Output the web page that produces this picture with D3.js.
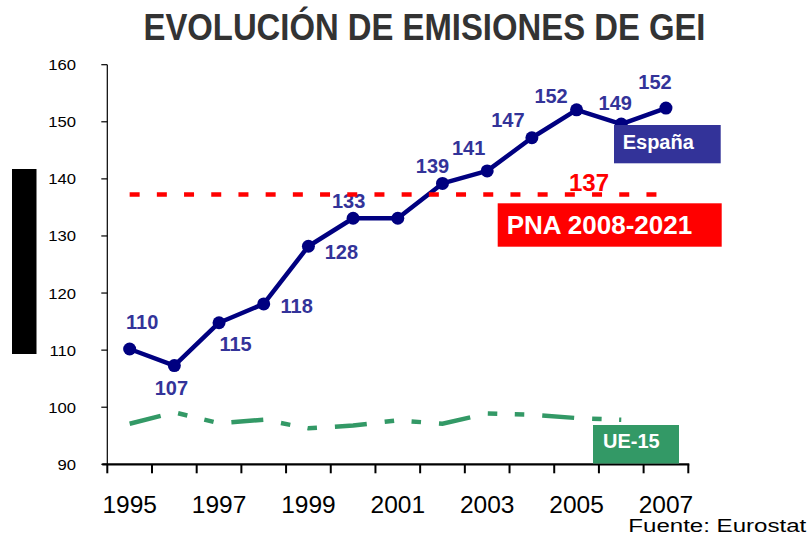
<!DOCTYPE html>
<html lang="es">
<head>
  <meta charset="UTF-8">
  <title>Evolución de emisiones de GEI</title>
  <script src="https://d3js.org/d3.v7.min.js"></script>
  <style>
    body {
      margin: 0;
      background: #fff;
    }
    svg {
      font-family: "Liberation Sans", Arial, sans-serif;
    }
  </style>
</head>
<body>
<svg width="811" height="535"></svg>
<script>
  // data
  const years = [1995, 1996, 1997, 1998, 1999, 2000, 2001, 2002, 2003, 2004, 2005, 2006, 2007];
  const espana = [110.2, 107.3, 114.8, 118.1, 128.2, 133.1, 133.1, 139.2, 141.4, 147.2, 152.1, 149.6, 152.4];
  const espanaLabels = ["110", "107", "115", "118", "128", "133", "", "139", "141", "147", "152", "149", "152"];
  const ue15 = [97.1, 99.1, 97.2, 97.8, 96.3, 96.8, 97.7, 97.1, 98.9, 98.7, 98.1, 97.8];
  const pna = 137;
  const yTicks = [90, 100, 110, 120, 130, 140, 150, 160];
  const xTickLabels = [1995, 1997, 1999, 2001, 2003, 2005, 2007];

  // label placement around each point [dx, dy]
  const labelOffset = [
    [12.5, -19.5], [-3, 29], [16.5, 28.5], [33, 9.5], [33, 13], [-4.5, -10.5], [0, 0],
    [-10, -10], [-18.5, -15.5], [-24, -11], [-25.5, -6.5], [-6, -14.5], [-11, -19]
  ];

  const svg = d3.select("svg");
  const plotL = 107.3, plotR = 688.3, plotT = 64.7, plotB = 464.3;

  const x = d3.scaleBand().domain(years).range([plotL, plotR]).padding(0);
  const cx = d => x(d) + x.bandwidth() / 2;
  const y = d3.scaleLinear().domain([90, 160]).range([plotB, plotT]);

  // title
  svg.append("text")
    .attr("x", 424.5).attr("y", 40)
    .attr("text-anchor", "middle")
    .attr("font-size", 36).attr("font-weight", "bold")
    .attr("fill", "#333")
    .attr("textLength", 562).attr("lengthAdjust", "spacingAndGlyphs")
    .text("EVOLUCIÓN DE EMISIONES DE GEI");

  // hidden axis title block
  svg.append("rect")
    .attr("x", 12).attr("y", 169).attr("width", 24.5).attr("height", 185)
    .attr("fill", "#000");

  // y axis
  svg.append("line")
    .attr("x1", plotL).attr("x2", plotL).attr("y1", plotT).attr("y2", plotB)
    .attr("stroke", "#000").attr("stroke-width", 1.2);
  svg.selectAll(".ytick").data(yTicks).join("line")
    .attr("x1", plotL - 6).attr("x2", plotL)
    .attr("y1", d => y(d)).attr("y2", d => y(d))
    .attr("stroke", "#000").attr("stroke-width", 1.2);
  svg.selectAll(".ylab").data(yTicks).join("text")
    .attr("transform", d => `translate(76,${y(d) + 5.5}) scale(1.15,1)`)
    .attr("text-anchor", "end")
    .attr("font-size", 14.5)
    .attr("fill", "#000")
    .text(d => d);

  // x axis
  svg.append("line")
    .attr("x1", plotL - 5).attr("x2", plotR + 1).attr("y1", plotB).attr("y2", plotB)
    .attr("stroke", "#000").attr("stroke-width", 2.2);
  const xTickPos = years.map(d => x(d)).concat([plotR]);
  svg.selectAll(".xtick").data(xTickPos).join("line")
    .attr("x1", d => d).attr("x2", d => d)
    .attr("y1", plotB).attr("y2", plotB + 9)
    .attr("stroke", "#000").attr("stroke-width", 2);
  svg.selectAll(".xlab").data(xTickLabels).join("text")
    .attr("x", d => cx(d)).attr("y", 512.5)
    .attr("text-anchor", "middle")
    .attr("font-size", 24.5)
    .attr("fill", "#000")
    .text(d => d);

  // UE-15 series
  const ueLine = d3.line().x((d, i) => cx(years[i])).y(d => y(d));
  svg.append("path")
    .attr("d", ueLine(ue15))
    .attr("fill", "none")
    .attr("stroke", "#339966")
    .attr("stroke-width", 4.5)
    .attr("stroke-dasharray", "32,18,9.5,17.5,9.5,18");

  // España series
  const esLine = d3.line().x((d, i) => cx(years[i])).y(d => y(d));
  svg.append("path")
    .attr("d", esLine(espana))
    .attr("fill", "none")
    .attr("stroke", "#000080")
    .attr("stroke-width", 4.5)
    .attr("stroke-linejoin", "round");
  svg.selectAll(".pt").data(espana).join("circle")
    .attr("cx", (d, i) => cx(years[i]))
    .attr("cy", d => y(d))
    .attr("r", 6.5)
    .attr("fill", "#000080");
  svg.selectAll(".plab").data(espana).join("text")
    .attr("x", (d, i) => cx(years[i]) + labelOffset[i][0])
    .attr("y", (d, i) => y(d) + labelOffset[i][1])
    .attr("text-anchor", "middle")
    .attr("font-size", 20).attr("font-weight", "bold")
    .attr("fill", "#333399")
    .text((d, i) => espanaLabels[i]);

  // PNA target line
  svg.append("line")
    .attr("x1", cx(years[0])).attr("x2", cx(years[years.length - 1]))
    .attr("y1", y(pna) - 1.5).attr("y2", y(pna) - 1.5)
    .attr("stroke", "#ff0000")
    .attr("stroke-width", 4.5)
    .attr("stroke-dasharray", "10,17.2");
  svg.append("text")
    .attr("x", 589).attr("y", 190.7)
    .attr("text-anchor", "middle")
    .attr("font-size", 24).attr("font-weight", "bold")
    .attr("fill", "#ff0000")
    .text(pna);

  // legend boxes
  function tag(x0, y0, w, h, fill, label, size, tx, ty, anchor) {
    svg.append("rect")
      .attr("x", x0).attr("y", y0).attr("width", w).attr("height", h)
      .attr("fill", fill);
    svg.append("text")
      .attr("x", tx).attr("y", ty)
      .attr("text-anchor", anchor)
      .attr("font-size", size).attr("font-weight", "bold")
      .attr("fill", "#fff")
      .text(label);
  }
  tag(614, 125, 106.7, 38.3, "#333399", "España", 20, 622.7, 149.3, "start");
  tag(497.7, 203.3, 224, 43.4, "#ff0000", "PNA 2008-2021", 26, 506.7, 234, "start");
  tag(593, 425, 86, 38.5, "#339966", "UE-15", 20, 631.3, 448.3, "middle");

  // source
  svg.append("text")
    .attr("x", 628.3).attr("y", 532)
    .attr("font-size", 17.5)
    .attr("fill", "#000")
    .attr("textLength", 178).attr("lengthAdjust", "spacingAndGlyphs")
    .text("Fuente:  Eurostat");
</script>
</body>
</html>
